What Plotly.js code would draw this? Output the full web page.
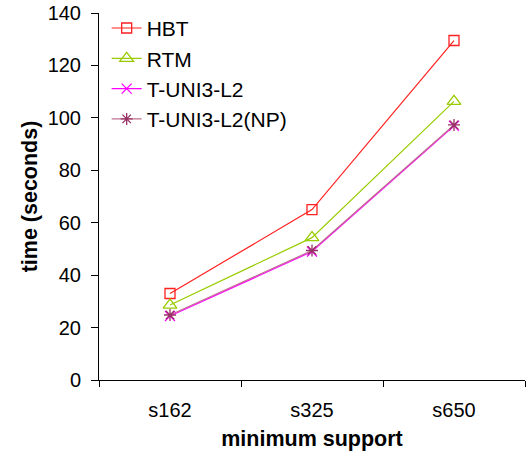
<!DOCTYPE html>
<html>
<head>
<meta charset="utf-8">
<script src="https://cdn.plot.ly/plotly-3.0.1.min.js"></script>
<style>html,body{margin:0;padding:0;background:#fff;}#chart{width:527px;height:457px;}</style>
</head>
<body>
<div id="chart"></div>
<script>
const categories = ["s162", "s325", "s650"];
const seriesNames = ["HBT", "RTM", "T-UNI3-L2", "T-UNI3-L2(NP)"];
const hbt = [33, 65, 129.5];
const rtm = [28.6, 54.3, 106.3];
const tuni = [24.4, 49, 97];
const tuniNP = [24.8, 49.4, 97.3];
const yTicks = [0, 20, 40, 60, 80, 100, 120, 140];

const styles = [
  {color: "#FF2020", symbol: "square-open", size: 10, lineColor: "#FF2020"},
  {color: "#99CC00", symbol: "triangle-up-open", size: 12, lineColor: "#99CC00"},
  {color: "#FF00FF", symbol: "x-thin-open", size: 10, lineColor: "#FF00FF"},
  {color: "#993366", symbol: "asterisk-open", size: 10, lineColor: "#C07090"}
];
const values = [hbt, rtm, tuni, tuniNP];

const traces = values.map((v, i) => ({
  x: categories,
  y: v,
  name: seriesNames[i],
  type: "scatter",
  mode: "lines+markers",
  line: {color: styles[i].lineColor, width: 1.2},
  marker: {symbol: styles[i].symbol, size: styles[i].size, color: styles[i].color,
           line: {color: styles[i].color, width: 1.3}}
}));

const layout = {
  width: 527, height: 457,
  margin: {l: 99, r: 2, t: 13, b: 77, autoexpand: false},
  paper_bgcolor: "#ffffff",
  plot_bgcolor: "#ffffff",
  font: {family: "Arial, Liberation Sans, sans-serif", color: "#000"},
  showlegend: true,
  legend: {x: 0.018, y: 1.014, xanchor: "left", yanchor: "top",
           bgcolor: "rgba(0,0,0,0)", font: {size: 21, color: "#000"},
           tracegroupgap: 0},
  xaxis: {
    type: "category",
    range: [-0.5, 2.5],
    showline: true, linecolor: "#000", linewidth: 1,
    ticks: "outside", ticklen: 6, tickcolor: "#000",
    tickson: "boundaries",
    ticklabelstandoff: 12,
    showgrid: false, zeroline: false,
    automargin: false,
    tickfont: {size: 20},
    title: {text: "<b>minimum support</b>", font: {size: 21.5}, standoff: 10}
  },
  yaxis: {
    range: [0, 140],
    tickvals: yTicks,
    showline: true, linecolor: "#000", linewidth: 1,
    ticks: "outside", ticklen: 7, tickcolor: "#000",
    ticklabelstandoff: 6,
    showgrid: false, zeroline: false,
    automargin: false,
    tickfont: {size: 20},
    title: {text: "<b>time (seconds)</b>", font: {size: 21.5}, standoff: 4}
  }
};

Plotly.newPlot("chart", traces, layout, {displayModeBar: false, staticPlot: true});
</script>
</body>
</html>
